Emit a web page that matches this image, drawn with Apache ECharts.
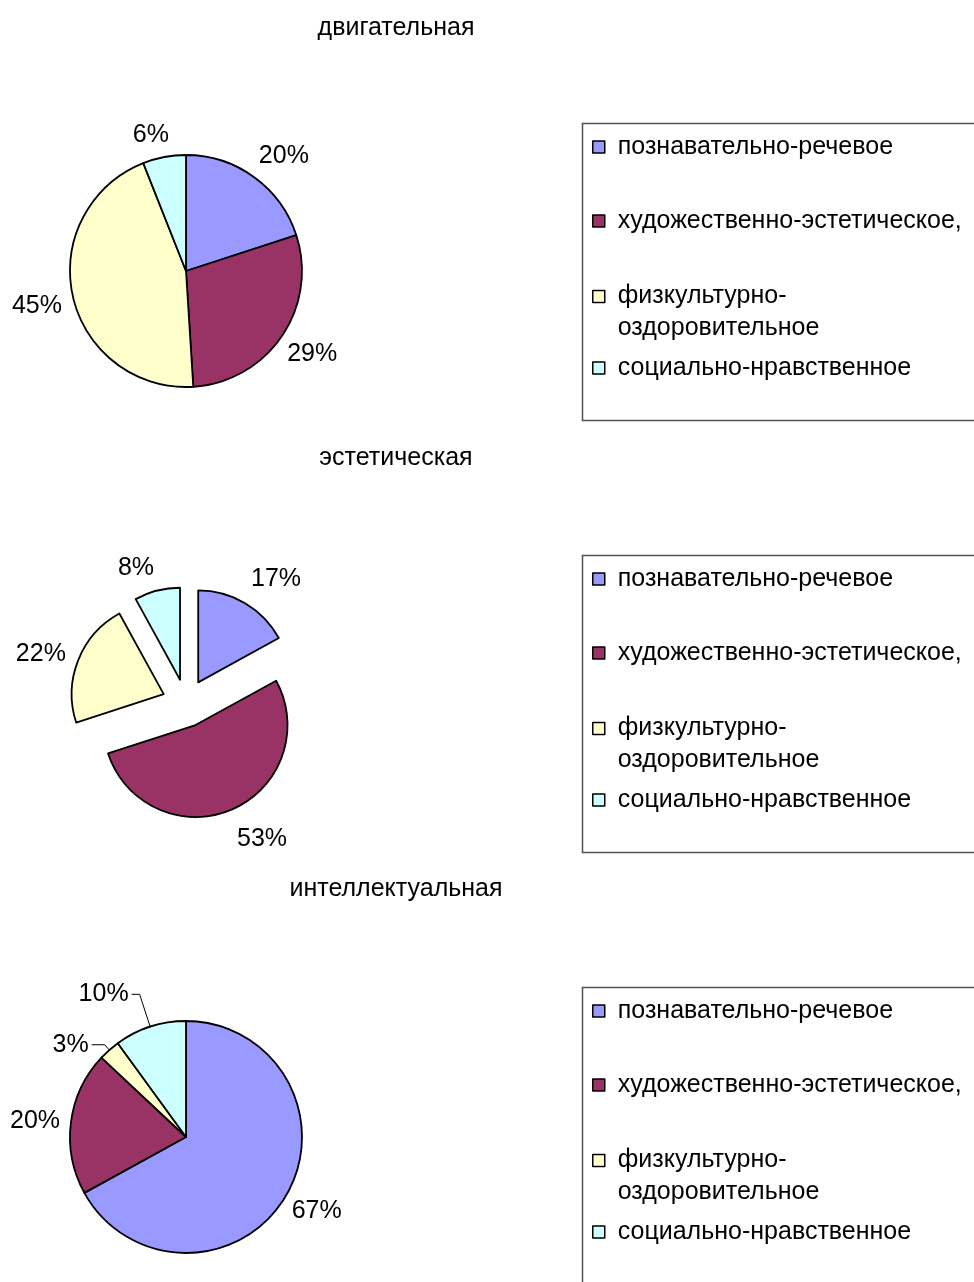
<!DOCTYPE html>
<html>
<head>
<meta charset="utf-8">
<script src="https://cdn.jsdelivr.net/npm/echarts@6/dist/echarts.min.js"></script>
<style>
  html, body { margin: 0; padding: 0; background: #fff; }
  #chart { width: 974px; height: 1282px; }
</style>
</head>
<body>
<div id="chart"></div>
<script>
// Kinds of activity (legend entries, same for all three pies)
const categories = [
  'познавательно-речевое',
  'художественно-эстетическое,',
  'физкультурно-оздоровительное',
  'социально-нравственное'
];
const chartTitles = ['двигательная', 'эстетическая', 'интеллектуальная'];

// Shares, %
const motorValues = [20, 29, 45, 6];
const aestheticValues = [17, 53, 22, 8];
const intellectValues = [67, 20, 3, 10];

const sliceColors = ['#9999FF', '#993366', '#FFFFCC', '#CCFFFF'];

const FONT = '"Liberation Sans", Arial, Helvetica, sans-serif';

// Legend rows: vertical offset of each marker centre from the top of its frame
const legendRowOffsets = [23, 97, 172, 244];
// Legend entries whose text wraps after the hyphen
const wrappedEntries = [2];

// Per-panel layout: pie geometry, label placement, title and legend frame
const panels = [
  { title: chartTitles[0], values: motorValues, center: [186, 271], radius: 116,
    labelLens: [26, 31, 45, 22], labelShifts: [-10.6, -20.4, -33.1, -8.8],
    titleTop: 15.5, frameTop: 123, frameHeight: 297, exploded: false },
  { title: chartTitles[1], values: aestheticValues, center: [186, 703], radius: 92,
    labelLens: [27.4, 32.7, 16, 22.8], labelShifts: [-8, -8, -2.6, -2.6],
    titleTop: 445.5, frameTop: 555, frameHeight: 297, exploded: true },
  { title: chartTitles[2], values: intellectValues, center: [186, 1137], radius: 116,
    labelLens: [30, 12, 7, 34], labelShifts: [-20, -1, 3, 3],
    titleTop: 877, frameTop: 987, frameHeight: 400, exploded: false,
    leaders: { 2: 13, 3: 8 } }
];

const labelStyle = { fontSize: 25, fontFamily: FONT, color: '#000' };
const borderStyle = { borderColor: '#000', borderWidth: 1.8 };

const series = panels.map(p => ({
  type: 'pie',
  center: p.center,
  radius: p.radius,
  startAngle: 90,
  clockwise: true,
  avoidLabelOverlap: false,
  animation: false,
  selectedMode: p.exploded ? 'multiple' : false,
  selectedOffset: 24,
  itemStyle: borderStyle,
  label: Object.assign({ show: true, position: 'outside', formatter: '{c}%' }, labelStyle),
  labelLine: { show: false, length2: 0, lineStyle: { color: '#000', width: 1 } },
  emphasis: { disabled: true },
  select: { itemStyle: borderStyle, label: labelStyle },
  data: categories.map((name, i) => {
    const leader = p.leaders && p.leaders[i];
    const item = {
      name: name,
      value: p.values[i],
      itemStyle: { color: sliceColors[i] },
      label: { distanceToLabelLine: p.labelShifts[i] },
      labelLine: {
        show: !!leader,
        length: p.labelLens[i],
        length2: leader || 0
      }
    };
    if (p.exploded) item.selected = true;
    return item;
  })
}));

const legendText = Object.assign({
  lineHeight: 30,
  padding: [0, 0, 0, 8],
  rich: {
    a: Object.assign({ lineHeight: 63 }, labelStyle),
    b: Object.assign({ lineHeight: 1 }, labelStyle)
  }
}, labelStyle);

const legends = [];
panels.forEach(p => {
  categories.forEach((name, i) => {
    const wrapped = wrappedEntries.indexOf(i) >= 0;
    const markerY = p.frameTop + 1 + legendRowOffsets[i];
    const lg = {
      data: [name],
      orient: 'vertical',
      left: 592,
      top: markerY - (wrapped ? 31.5 : 15),
      padding: 0,
      itemWidth: 12,
      itemHeight: 12,
      icon: 'rect',
      selectedMode: false,
      itemStyle: { borderColor: '#000', borderWidth: 1.5 },
      textStyle: legendText
    };
    if (wrapped) {
      lg.formatter = function (n) {
        const k = n.indexOf('-') + 1;
        return '{a|' + n.slice(0, k) + '}\n{b|' + n.slice(k) + '}';
      };
    }
    legends.push(lg);
  });
});

const option = {
  backgroundColor: '#fff',
  animation: false,
  title: panels.map(p => ({
    text: p.title,
    left: 396,
    top: p.titleTop,
    textAlign: 'center',
    padding: 0,
    textStyle: { fontSize: 25, fontWeight: 'normal', fontFamily: FONT, color: '#000' }
  })),
  legend: legends,
  graphic: panels.map(p => ({
    type: 'rect',
    silent: true,
    z: 0,
    shape: { x: 582.5, y: p.frameTop + 0.5, width: 520, height: p.frameHeight },
    style: { fill: 'none', stroke: '#505050', lineWidth: 1.5 }
  })),
  series: series
};

const chart = echarts.init(document.getElementById('chart'));
chart.setOption(option);
</script>
</body>
</html>
